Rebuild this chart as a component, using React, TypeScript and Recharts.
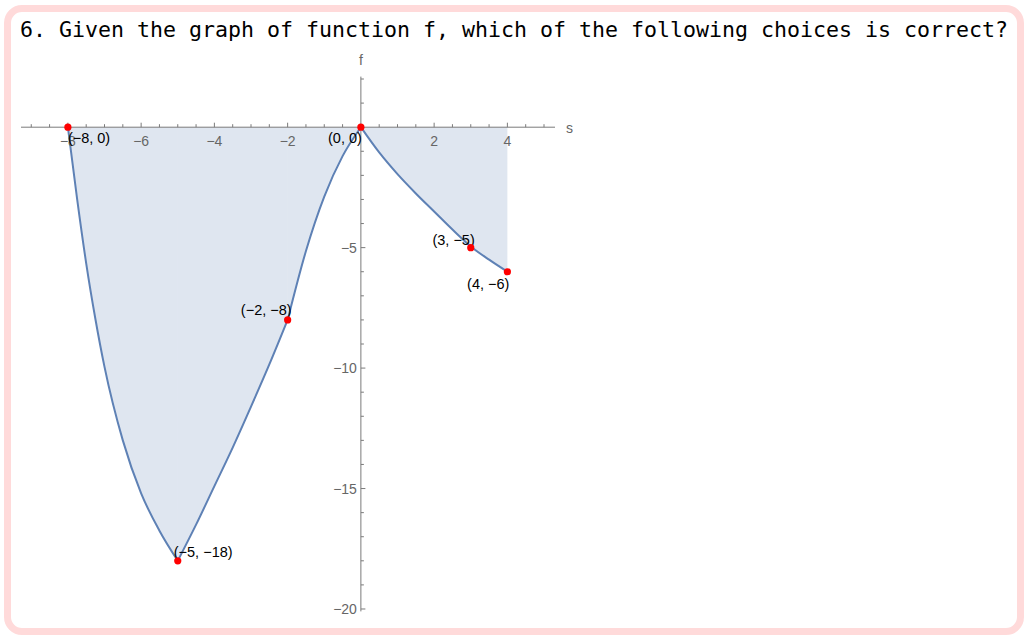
import React from 'react';
import { ComposedChart, Area, Scatter, XAxis, YAxis, ReferenceLine, ReferenceDot } from 'recharts';

// f on each piece (s -> f(s))
const segA = [
  { s: -8, a: 0 }, { s: -7.75, a: -2.95 }, { s: -7.5, a: -5.65 }, { s: -7.25, a: -7.95 },
  { s: -7, a: -9.95 }, { s: -6.5, a: -13.0 }, { s: -6, a: -15.2 }, { s: -5.5, a: -16.75 }, { s: -5, a: -18 },
];
const segB = [
  { s: -5, b: -18 }, { s: -4.5, b: -16.5 }, { s: -4, b: -14.9 }, { s: -3.5, b: -13.3 },
  { s: -3, b: -11.6 }, { s: -2.5, b: -9.85 }, { s: -2, b: -8 },
];
const segC = [
  { s: -2, c: -8 }, { s: -1.5, c: -5.14 }, { s: -1, c: -2.88 }, { s: -0.5, c: -1.2 }, { s: 0, c: 0 },
];
const segD = [
  { s: 0, d: 0 }, { s: 0.5, d: -1.05 }, { s: 1, d: -1.95 }, { s: 1.5, d: -2.75 }, { s: 2, d: -3.5 },
  { s: 2.5, d: -4.25 }, { s: 3, d: -4.95 }, { s: 3.5, d: -5.5 }, { s: 4, d: -6 },
];

const keyPoints = [
  { s: -8, f: 0, label: '(−8, 0)' },
  { s: 0, f: 0, label: '(0, 0)' },
  { s: -2, f: -8, label: '(−2, −8)' },
  { s: -5, f: -18, label: '(−5, −18)' },
  { s: 3, f: -5, label: '(3, −5)' },
  { s: 4, f: -6, label: '(4, −6)' },
];

const xTicks = [-9, -8.5, -8, -7.5, -7, -6.5, -6, -5.5, -5, -4.5, -4, -3.5, -3, -2.5, -2, -1.5, -1, -0.5,
  0.5, 1, 1.5, 2, 2.5, 3, 3.5, 4, 4.5, 5];
const xLabels = [-8, -6, -4, -2, 2, 4];
const yTicks = [2, 1, -1, -2, -3, -4, -5, -6, -7, -8, -9, -10, -11, -12, -13, -14, -15, -16, -17, -18, -19, -20];
const yLabels = [-5, -10, -15, -20];

// where each point label sits relative to its dot
const labelPlace = [
  { anchor: 'start', dx: 0, dy: 16 },
  { anchor: 'end', dx: 1, dy: 16 },
  { anchor: 'end', dx: 4, dy: -5 },
  { anchor: 'start', dx: -4, dy: -4 },
  { anchor: 'end', dx: 4, dy: -3 },
  { anchor: 'end', dx: 2, dy: 17 },
];

const merged = [...segA, ...segB, ...segC, ...segD].reduce((acc: any[], row: any) => {
  const hit = acc.find((r) => r.s === row.s);
  if (hit) Object.assign(hit, row);
  else acc.push({ ...row });
  return acc;
}, []).sort((p, q) => p.s - q.s);

const LINE = '#5E81B5';
const AXIS = '#7a7a7a';
const TICK_TEXT = '#666666';
const SANS = '"Liberation Sans", Arial, sans-serif';

const fmt = (v: number) => (v < 0 ? '−' + Math.abs(v) : String(v));

const XTick = (label: boolean, v: number) => (props: any) => (
  <g>
    <line x1={props.cx} y1={props.cy} x2={props.cx} y2={props.cy - (label ? 4.5 : 3)} stroke={AXIS} strokeWidth={1} />
    {label && (
      <text x={props.cx} y={props.cy + 19} textAnchor="middle" fill={TICK_TEXT} fontSize={14} fontFamily={SANS}>
        {fmt(v)}
      </text>
    )}
  </g>
);

const YTick = (label: boolean, v: number) => (props: any) => (
  <g>
    <line x1={props.cx} y1={props.cy} x2={props.cx + (label ? 4.5 : 3)} y2={props.cy} stroke={AXIS} strokeWidth={1} />
    {label && (
      <text x={props.cx - 4} y={props.cy + 5} textAnchor="end" fill={TICK_TEXT} fontSize={14} fontFamily={SANS}>
        {fmt(v)}
      </text>
    )}
  </g>
);

const PointShape = (props: any) => {
  const i = keyPoints.findIndex((p) => p.s === props.payload.s && p.f === props.payload.f);
  const place = labelPlace[i] || { anchor: 'start', dx: 0, dy: 0 };
  return (
    <g>
      <text x={props.cx + place.dx} y={props.cy + place.dy} textAnchor={place.anchor} fill="#000"
        fontSize={14.5} fontFamily={SANS}>
        {props.payload.label}
      </text>
      <circle cx={props.cx} cy={props.cy} r={3.6} fill="#ff0000" />
    </g>
  );
};

export default function App() {
  return (
    <div style={{ position: 'absolute', left: 0, top: 0, width: 1028, height: 641, background: '#fff' }}>
      <div
        style={{
          position: 'absolute', left: 4, top: 5, width: 1020, height: 630, boxSizing: 'border-box',
          border: '7px solid #FFDADA', borderRadius: 18,
        }}
      />
      <div
        style={{
          position: 'absolute', left: 20, top: 16, fontFamily: '"DejaVu Sans Mono", monospace',
          fontSize: 21.6, color: '#000', whiteSpace: 'nowrap', lineHeight: '28px',
        }}
      >
        6. Given the graph of function f, which of the following choices is correct?
      </div>
      <div style={{ position: 'absolute', left: 0, top: 40 }}>
        <ComposedChart
          width={600}
          height={600}
          data={merged}
          margin={{ top: 36.6, right: 45, bottom: 28.6, left: 21 }}
          style={{ overflow: 'visible' }}
        >
          <XAxis dataKey="s" type="number" domain={[-9.28, 5.3]} hide allowDataOverflow />
          <YAxis type="number" domain={[-20.1, 2.1]} hide allowDataOverflow />
          <Area dataKey="a" type="monotone" baseValue={0} stroke={LINE} strokeWidth={2} fill={LINE} fillOpacity={0.2}
            isAnimationActive={false} connectNulls={false} dot={false} activeDot={false} />
          <Area dataKey="b" type="monotone" baseValue={0} stroke={LINE} strokeWidth={2} fill={LINE} fillOpacity={0.2}
            isAnimationActive={false} connectNulls={false} dot={false} activeDot={false} />
          <Area dataKey="c" type="monotone" baseValue={0} stroke={LINE} strokeWidth={2} fill={LINE} fillOpacity={0.2}
            isAnimationActive={false} connectNulls={false} dot={false} activeDot={false} />
          <Area dataKey="d" type="monotone" baseValue={0} stroke={LINE} strokeWidth={2} fill={LINE} fillOpacity={0.2}
            isAnimationActive={false} connectNulls={false} dot={false} activeDot={false} />
          <ReferenceLine y={0} stroke={AXIS} strokeWidth={1} />
          <ReferenceLine x={0} stroke={AXIS} strokeWidth={1} />
          {xTicks.map((t) => (
            <ReferenceDot key={'xt' + t} x={t} y={0} r={0} shape={XTick(xLabels.includes(t), t)} />
          ))}
          {yTicks.map((t) => (
            <ReferenceDot key={'yt' + t} x={0} y={t} r={0} shape={YTick(yLabels.includes(t), t)} />
          ))}
          <ReferenceDot x={0} y={2.1} r={0} shape={(p: any) => (
            <text x={p.cx} y={p.cy - 12} textAnchor="middle" fill={TICK_TEXT} fontSize={14} fontFamily={SANS}>f</text>
          )} />
          <ReferenceDot x={5.3} y={0} r={0} shape={(p: any) => (
            <text x={p.cx + 11} y={p.cy + 6} textAnchor="start" fill={TICK_TEXT} fontSize={14} fontFamily={SANS}>s</text>
          )} />
          <Scatter data={keyPoints} dataKey="f" shape={PointShape} isAnimationActive={false} />
        </ComposedChart>
      </div>
    </div>
  );
}
